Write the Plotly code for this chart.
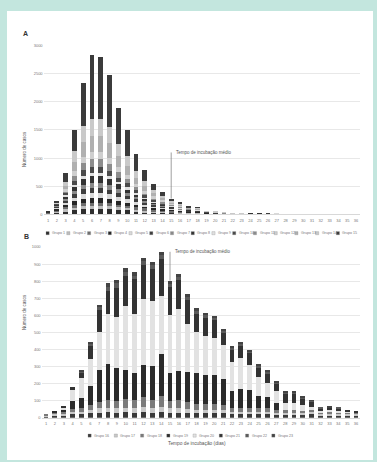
import plotly.graph_objects as go

W, H = 377, 462

# ---------------- data ----------------
days = ["1", "2", "3", "4", "5", "6", "7", "8", "9", "10", "11", "12",
        "13", "14", "15", "16", "17", "18", "19", "20", "21", "22", "23", "24",
        "25", "26", "27", "28", "29", "30", "31", "32", "33", "34", "35", "36"]

# Panel A: cases per incubation day, one series per group
names_a = ["Grupo 1", "Grupo 2", "Grupo 3", "Grupo 4", "Grupo 5", "Grupo 6", "Grupo 7",
           "Grupo 8", "Grupo 9", "Grupo 10", "Grupo 11", "Grupo 12", "Grupo 13",
           "Grupo 14", "Grupo 15"]
a1 = [20, 40, 60, 80, 90, 95, 95, 90, 80, 70, 60, 50, 45, 40, 35, 30, 25, 25, 15, 12, 10, 8, 8, 6, 5, 4, 4, 3, 2, 2, 2, 1, 1, 1, 1, 1]
a2 = [5, 20, 30, 40, 55, 60, 60, 55, 45, 40, 30, 25, 20, 15, 15, 12, 10, 10, 5, 5, 4, 4, 3, 12, 10, 10, 9, 8, 8, 7, 7, 6, 6, 5, 5, 4]
a3 = [10, 25, 40, 50, 55, 55, 55, 50, 45, 40, 35, 30, 25, 20, 20, 15, 10, 10, 5, 5, 4, 3, 3, 2, 2, 1, 1, 1, 1, 1, 0, 1, 0, 0, 0, 0]
a4 = [10, 30, 50, 70, 80, 80, 80, 75, 70, 60, 50, 40, 35, 30, 25, 20, 15, 12, 8, 6, 4, 3, 3, 2, 1, 1, 1, 1, 1, 0, 1, 0, 1, 0, 0, 0]
a5 = [0, 15, 30, 60, 85, 95, 95, 85, 70, 60, 45, 35, 25, 20, 15, 12, 8, 8, 5, 4, 3, 2, 2, 1, 1, 1, 1, 1, 0, 0, 0, 0, 0, 1, 0, 0]
a6 = [5, 20, 40, 60, 80, 85, 85, 80, 70, 55, 45, 35, 25, 20, 15, 12, 8, 8, 4, 3, 2, 2, 1, 1, 1, 1, 0, 0, 0, 0, 0, 0, 0, 0, 0, 0]
a7 = [0, 10, 30, 55, 80, 90, 90, 80, 65, 55, 40, 30, 20, 15, 10, 8, 6, 5, 3, 2, 1, 1, 1, 1, 0, 0, 0, 0, 0, 0, 0, 0, 0, 0, 0, 0]
a8 = [10, 15, 40, 70, 110, 120, 120, 110, 90, 75, 55, 40, 30, 20, 15, 12, 8, 6, 3, 2, 2, 1, 1, 1, 1, 0, 0, 0, 0, 0, 0, 0, 0, 0, 0, 0]
a9 = [0, 10, 20, 40, 55, 60, 60, 55, 45, 35, 25, 20, 15, 10, 8, 6, 4, 3, 2, 1, 1, 1, 0, 0, 0, 0, 0, 0, 0, 0, 0, 0, 0, 0, 0, 0]
a10 = [0, 15, 40, 70, 95, 100, 100, 90, 75, 60, 45, 35, 25, 20, 12, 10, 6, 5, 2, 2, 1, 1, 1, 0, 0, 0, 0, 0, 0, 0, 0, 0, 0, 0, 0, 0]
a11 = [0, 10, 40, 90, 130, 140, 140, 125, 100, 80, 60, 45, 30, 25, 15, 12, 8, 6, 3, 2, 1, 1, 1, 0, 0, 0, 0, 0, 0, 0, 0, 0, 0, 0, 0, 0]
a12 = [0, 5, 30, 80, 110, 120, 120, 110, 85, 70, 50, 35, 25, 20, 12, 10, 6, 5, 2, 2, 1, 1, 1, 0, 0, 0, 0, 0, 0, 0, 0, 0, 0, 0, 0, 0]
a13 = [0, 0, 60, 170, 260, 300, 300, 270, 200, 160, 110, 80, 55, 40, 25, 20, 12, 10, 5, 3, 2, 1, 1, 0, 0, 0, 0, 0, 0, 0, 0, 0, 0, 0, 0, 0]
a14 = [0, 0, 70, 190, 290, 300, 300, 270, 210, 170, 120, 85, 55, 40, 25, 20, 12, 10, 5, 3, 2, 1, 1, 0, 0, 0, 0, 0, 0, 0, 0, 0, 0, 0, 0, 0]
a15 = [0, 25, 160, 375, 755, 1140, 1100, 925, 640, 470, 300, 195, 115, 70, 33, 21, 2, 2, 0, 0, 0, 0, 0, 0, 0, 0, 0, 0, 0, 0, 0, 0, 0, 0, 0, 0]
series_a = [a1, a2, a3, a4, a5, a6, a7, a8, a9, a10, a11, a12, a13, a14, a15]

# Panel B
names_b = ["Grupo 16", "Grupo 17", "Grupo 18", "Grupo 19", "Grupo 20",
           "Grupo 21", "Grupo 22", "Grupo 23"]
b1 = [10, 15, 15, 20, 20, 25, 30, 35, 30, 35, 30, 35, 30, 35, 30, 30, 30, 25, 25, 25, 25, 20, 20, 20, 20, 20, 20, 20, 20, 20, 25, 15, 15, 15, 15, 15]
b2 = [5, 8, 10, 15, 15, 20, 25, 25, 25, 25, 25, 30, 25, 30, 25, 25, 20, 20, 20, 20, 20, 15, 15, 15, 15, 15, 10, 10, 10, 10, 10, 8, 8, 8, 8, 8]
b3 = [4, 10, 10, 15, 20, 30, 35, 45, 45, 50, 50, 55, 50, 60, 45, 50, 40, 35, 35, 35, 30, 25, 25, 25, 20, 20, 15, 15, 15, 10, 10, 8, 8, 8, 6, 5]
b4 = [0, 5, 15, 50, 60, 110, 190, 210, 190, 170, 160, 190, 200, 250, 160, 170, 180, 180, 170, 170, 150, 95, 110, 100, 75, 65, 40, 0, 0, 0, 0, 0, 0, 0, 0, 0]
b5 = [0, 0, 10, 65, 120, 160, 220, 290, 300, 375, 345, 385, 380, 340, 340, 360, 280, 240, 230, 220, 200, 170, 180, 150, 110, 85, 70, 40, 40, 35, 20, 10, 12, 10, 5, 5]
b6 = [0, 0, 7, 18, 30, 75, 130, 140, 170, 175, 200, 200, 185, 215, 165, 170, 140, 110, 105, 100, 75, 75, 75, 70, 55, 55, 45, 55, 55, 35, 30, 15, 16, 15, 10, 5]
b7 = [0, 0, 0, 0, 6, 12, 17, 23, 27, 25, 22, 23, 23, 21, 20, 19, 20, 18, 15, 12, 11, 9, 10, 9, 8, 8, 6, 7, 7, 6, 4, 2, 3, 2, 0, 0]
b8 = [0, 0, 0, 0, 5, 12, 15, 20, 20, 20, 20, 20, 20, 20, 18, 18, 16, 15, 14, 12, 10, 8, 9, 8, 8, 8, 6, 7, 7, 6, 3, 0, 2, 0, 0, 0]
series_b = [b1, b2, b3, b4, b5, b6, b7, b8]

mean_day = "15"
mean_label = "Tempo de incubação médio"

# ---------------- styling ----------------
colors_a = ["#2e2e2e", "#bdbdbd", "#6e6e6e", "#262626", "#d9d9d9", "#3d3d3d", "#8a8a8a",
            "#333333", "#e0e0e0", "#4a4a4a", "#8d8d8d", "#cfcfcf", "#b0b0b0", "#c9c9c9",
            "#3b3b3b"]
colors_b = ["#3a3a3a", "#c8c8c8", "#7a7a7a", "#2b2b2b", "#e2e2e2", "#333333", "#5a5a5a",
            "#444444"]

FONT = "Liberation Sans, Arial, sans-serif"
TXT = "#777777"


def px(x):
    return x / W


def py(y):
    return 1 - y / H


fig = go.Figure()
for nm, vals, col in zip(names_a, series_a, colors_a):
    fig.add_trace(go.Bar(x=days, y=vals, name=nm, marker_color=col,
                         marker_line_width=0, xaxis="x", yaxis="y", showlegend=False))
for nm, vals, col in zip(names_b, series_b, colors_b):
    fig.add_trace(go.Bar(x=days, y=vals, name=nm, marker_color=col,
                         marker_line_width=0, xaxis="x2", yaxis="y2", showlegend=False))

axis_common = dict(tickfont=dict(size=4, color=TXT, family=FONT))
fig.update_layout(
    width=W, height=H, margin=dict(l=0, r=0, t=0, b=0),
    paper_bgcolor="#c3e6de", plot_bgcolor="white",
    barmode="stack", bargap=0.45, showlegend=False,
    font=dict(family=FONT, color=TXT),
    xaxis=dict(domain=[px(43.6), px(360.4)], anchor="y", type="category",
               showgrid=False, ticks="", showline=True, linecolor="#d8d8d8",
               linewidth=0.6, ticklabelstandoff=2, **axis_common),
    yaxis=dict(domain=[py(213.7), py(43)], anchor="x", range=[0, 3000], dtick=500,
               gridcolor="#e8e8e8", gridwidth=0.6, zeroline=False, ticks="",
               **axis_common),
    xaxis2=dict(domain=[px(41.6), px(360.4)], anchor="y2", type="category",
                showgrid=False, ticks="", showline=True, linecolor="#d8d8d8",
                linewidth=0.6, ticklabelstandoff=2, **axis_common),
    yaxis2=dict(domain=[py(419.3), py(246.7)], anchor="x2", range=[0, 1000], dtick=100,
                gridcolor="#e8e8e8", gridwidth=0.6, zeroline=False, ticks="",
                **axis_common),
)

shapes = [dict(type="rect", xref="paper", yref="paper", x0=px(7), x1=px(373),
               y0=0, y1=py(8), fillcolor="white", line_width=0, layer="below")]
annotations = []

# mean incubation markers
i_mean = days.index(mean_day)
top_a = sum(s[i_mean] for s in series_a)
top_b = sum(s[i_mean] for s in series_b)
shapes.append(dict(type="line", xref="x", yref="y", x0=i_mean, x1=i_mean,
                   y0=top_a, y1=1100, line=dict(color="#777777", width=0.7)))
shapes.append(dict(type="line", xref="x2", yref="y2", x0=i_mean, x1=i_mean,
                   y0=top_b, y1=972, line=dict(color="#777777", width=0.7)))
annotations.append(dict(xref="x", yref="y", x=i_mean, y=1100, text=mean_label,
                        showarrow=False, xanchor="left", yanchor="middle", xshift=3,
                        font=dict(size=4.5, color="#555555")))
annotations.append(dict(xref="x2", yref="y2", x=i_mean, y=972, text=mean_label,
                        showarrow=False, xanchor="left", yanchor="middle", xshift=3,
                        font=dict(size=4.5, color="#555555")))

# panel letters
annotations.append(dict(xref="paper", yref="paper", x=px(21), y=py(31), text="<b>A</b>",
                        showarrow=False, xanchor="left", yanchor="middle",
                        font=dict(size=7, color="#333333")))
annotations.append(dict(xref="paper", yref="paper", x=px(22), y=py(236), text="<b>B</b>",
                        showarrow=False, xanchor="left", yanchor="middle",
                        font=dict(size=7, color="#333333")))

# axis titles
for yc in (128, 333):
    annotations.append(dict(xref="paper", yref="paper", x=px(20), y=py(yc),
                            text="Número de casos", showarrow=False, textangle=-90,
                            font=dict(size=4.5, color="#555555")))
annotations.append(dict(xref="paper", yref="paper", x=px(197), y=py(450),
                        text="Tempo de incubação (dias)", showarrow=False,
                        font=dict(size=4.8, color="#555555")))


# hand-placed legend rows
def legend_row(names, cols, x_start, x_end, y):
    step = (x_end - x_start) / len(names)
    for k, (nm, col) in enumerate(zip(names, cols)):
        x0 = x_start + k * step
        shapes.append(dict(type="rect", xref="paper", yref="paper",
                           x0=px(x0), x1=px(x0 + 3.2), y0=py(y + 1.6), y1=py(y - 1.6),
                           fillcolor=col, line=dict(color="#888888", width=0.3)))
        annotations.append(dict(xref="paper", yref="paper", x=px(x0 + 4.2), y=py(y),
                                text=nm, showarrow=False, xanchor="left",
                                yanchor="middle", font=dict(size=3.6, color=TXT)))


legend_row(names_a, colors_a, 46, 357, 232.7)
legend_row(names_b, colors_b, 88, 298, 437.3)

fig.update_layout(shapes=shapes, annotations=annotations)
fig.write_html("out.html")
